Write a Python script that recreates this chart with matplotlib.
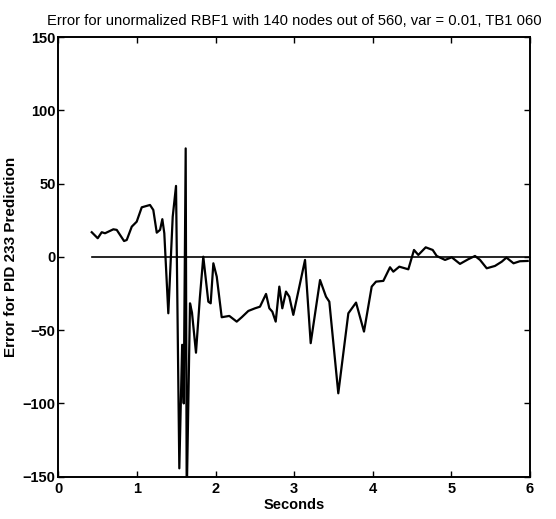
import numpy as np
import matplotlib
matplotlib.use('Agg')
import matplotlib.pyplot as plt

plt.rcParams['font.family'] = ['Liberation Sans', 'DejaVu Sans']

# error trace (seconds, error)
t = [0.425, 0.501, 0.552, 0.594, 0.700, 0.743, 0.836, 0.870, 0.934, 0.997,
     1.061, 1.166, 1.208, 1.252, 1.294, 1.323, 1.348, 1.399, 1.455, 1.497,
     1.539, 1.575, 1.595, 1.620, 1.633, 1.675, 1.700, 1.751, 1.800, 1.844,
     1.908, 1.938, 1.972, 2.015, 2.078, 2.175, 2.269, 2.333, 2.417, 2.502,
     2.565, 2.642, 2.684, 2.722, 2.765, 2.811, 2.849, 2.896, 2.938, 2.989,
     3.138, 3.210, 3.329, 3.405, 3.447, 3.561, 3.689, 3.787, 3.888, 3.986,
     4.041, 4.134, 4.219, 4.261, 4.337, 4.452, 4.524, 4.579, 4.673, 4.762,
     4.813, 4.919, 5.004, 5.109, 5.215, 5.300, 5.364, 5.449, 5.554, 5.640,
     5.700, 5.790, 5.870, 5.970]
err = [16.8, 12.7, 16.8, 16.1, 18.8, 18.4, 10.8, 11.5, 20.6, 24.0,
       33.8, 35.4, 32.0, 16.5, 18.4, 25.7, 16.1, -38.5, 27.4, 48.4,
       -144.3, -60.0, -100.0, 74.0, -165.0, -31.7, -38.0, -65.4, -28.0, 0.1,
       -30.6, -31.7, -4.4, -13.5, -41.2, -40.3, -44.2, -41.2, -36.9, -35.1,
       -34.0, -25.3, -35.1, -37.4, -44.2, -20.3, -35.1, -23.7, -27.2, -39.6,
       -2.1, -58.9, -15.8, -27.2, -30.6, -93.1, -38.5, -31.2, -51.0, -20.3,
       -16.9, -16.4, -7.1, -10.1, -6.7, -8.5, 4.7, 1.3, 6.5, 4.7,
       0.6, -2.1, -0.3, -4.8, -1.6, 0.6, -2.1, -7.8, -6.2, -3.3,
       -0.5, -4.4, -3.0, -2.8]

zero_x = [0.425, 6.0]
zero_y = [0.0, 0.0]

xticks = [0, 1, 2, 3, 4, 5, 6]
yticks = [-150, -100, -50, 0, 50, 100, 150]

fig = plt.figure(figsize=(5.56, 5.19), dpi=100)
ax = fig.add_axes([0.1049, 0.0815, 0.8484, 0.8472])

ax.plot(zero_x, zero_y, color='black', lw=1.2)
ax.plot(t, err, color='black', lw=1.6)

ax.set_xlim(0, 6)
ax.set_ylim(-150, 150)
ax.set_xticks(xticks)
ax.set_yticks(yticks)
ax.tick_params(direction='in', length=4, width=1, top=True, right=True,
               labelsize=10.5, pad=2)
ax.tick_params(axis='x', pad=4)
for lab in ax.get_xticklabels() + ax.get_yticklabels():
    lab.set_fontweight('bold')
for s in ax.spines.values():
    s.set_linewidth(1.4)

ax.set_title('Error for unormalized RBF1 with 140 nodes out of 560, var = 0.01, TB1 060',
             fontsize=10.6, pad=9)
ax.set_xlabel('Seconds', fontsize=10.5, fontweight='bold', labelpad=1)
ax.set_ylabel('Error for PID 233 Prediction', fontsize=11, fontweight='bold', labelpad=3)

fig.savefig('out.png', dpi=100)
